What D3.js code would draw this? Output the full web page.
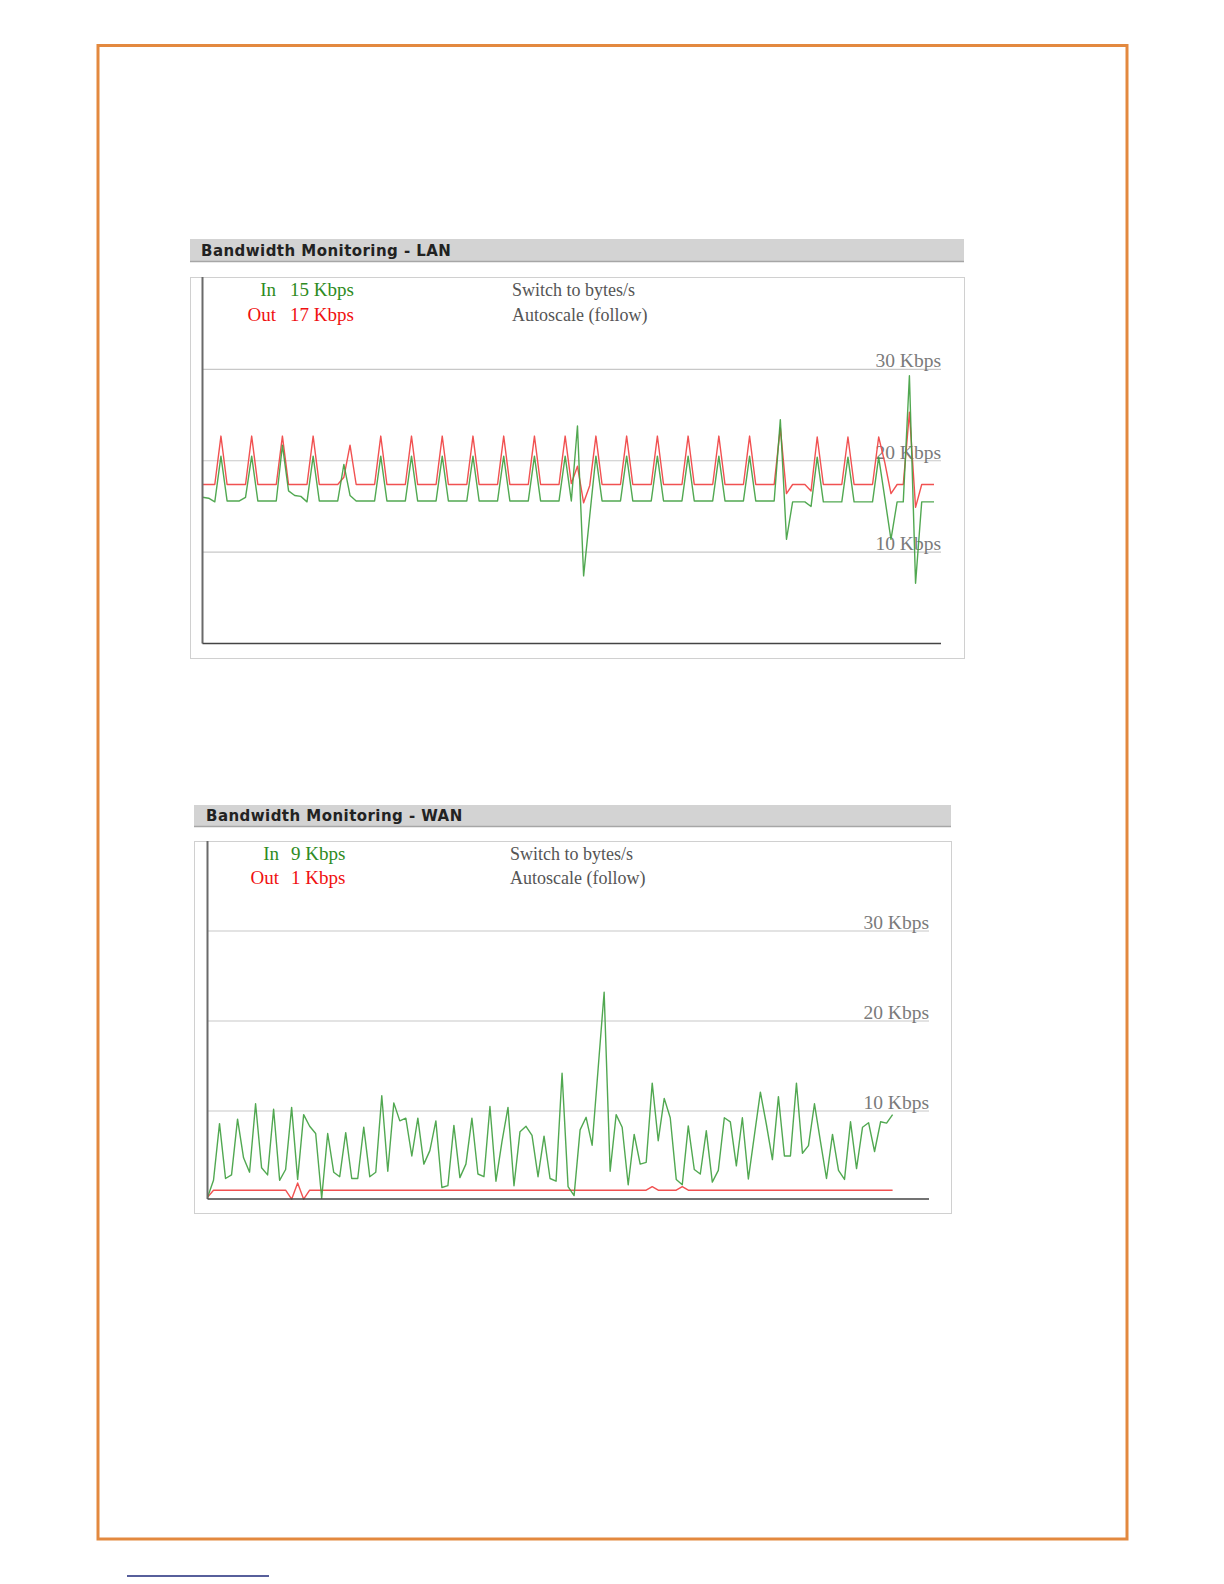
<!DOCTYPE html>
<html><head><meta charset="utf-8">
<script src="https://cdn.jsdelivr.net/npm/d3@7/dist/d3.min.js"></script>
<style>body{margin:0;background:#fff}</style>
</head><body>
<svg id="page" width="1224" height="1584"></svg>
<script>
// ---- data ----
const tickValues = [10, 20, 30];
const tickLabels = ["10 Kbps", "20 Kbps", "30 Kbps"];
const legendLabels = ["In", "Out"];
const lanLegendValues = ["15 Kbps", "17 Kbps"];
const wanLegendValues = ["9 Kbps", "1 Kbps"];
const linkTexts = ["Switch to bytes/s", "Autoscale (follow)"];
const titles = ["Bandwidth Monitoring - LAN", "Bandwidth Monitoring - WAN"];

const lanIn = [
 16.0,15.9,15.5,20.5,15.6,15.6,15.6,16.0,20.5,15.6,
 15.6,15.6,15.6,21.7,16.7,16.2,16.1,15.5,20.5,15.6,
 15.6,15.6,15.6,19.6,16.2,15.6,15.6,15.6,15.6,20.5,
 15.6,15.6,15.6,15.6,20.5,15.6,15.6,15.6,15.6,20.5,
 15.6,15.6,15.6,15.6,20.5,15.6,15.6,15.6,15.6,20.5,
 15.6,15.6,15.6,15.6,20.5,15.6,15.6,15.6,15.6,20.5,
 15.6,23.8,7.4,14.0,20.5,15.6,15.6,15.6,15.6,20.5,
 15.6,15.6,15.6,15.6,20.5,15.6,15.6,15.6,15.6,20.5,
 15.6,15.6,15.6,15.6,20.5,15.6,15.6,15.6,15.6,20.5,
 15.6,15.6,15.6,15.6,24.5,11.4,15.5,15.5,15.5,15.0,
 20.4,15.5,15.5,15.5,15.5,20.4,15.5,15.5,15.5,15.5,
 20.4,15.9,11.4,15.5,15.5,29.3,6.6,15.5,15.5,15.5
];
const lanOut = [
 17.4,17.4,17.4,22.7,17.4,17.4,17.4,17.4,22.7,17.4,
 17.4,17.4,17.4,22.7,17.4,17.4,17.4,17.4,22.7,17.4,
 17.4,17.4,17.4,18.2,21.7,17.4,17.4,17.4,17.4,22.7,
 17.4,17.4,17.4,17.4,22.7,17.4,17.4,17.4,17.4,22.7,
 17.4,17.4,17.4,17.4,22.7,17.4,17.4,17.4,17.4,22.7,
 17.4,17.4,17.4,17.4,22.7,17.4,17.4,17.4,17.4,22.7,
 17.5,19.4,15.4,17.3,22.7,17.4,17.4,17.4,17.4,22.7,
 17.4,17.4,17.4,17.4,22.7,17.4,17.4,17.4,17.4,22.7,
 17.4,17.4,17.4,17.4,22.7,17.4,17.4,17.4,17.4,22.7,
 17.4,17.4,17.4,17.4,23.6,16.4,17.4,17.4,17.4,16.7,
 22.6,17.4,17.4,17.4,17.4,22.6,17.4,17.4,17.4,17.4,
 22.6,19.8,16.4,17.4,17.4,25.3,14.9,17.4,17.4,17.4
];
const wanIn = [
 0.4,2.3,8.6,2.5,2.9,9.1,4.8,3.2,10.8,3.7,
 2.9,10.2,2.3,3.5,10.4,2.4,9.6,8.3,7.5,0.3,
 7.5,3.2,2.7,7.6,2.5,2.5,8.2,2.7,3.2,11.7,
 3.3,10.9,8.9,9.2,5.0,9.2,4.1,5.6,8.9,1.5,
 1.7,8.4,2.6,4.1,9.2,3.0,2.7,10.5,2.2,6.6,
 10.4,1.7,7.7,8.3,7.3,2.7,7.2,2.5,2.2,14.2,
 1.6,0.6,7.9,9.3,6.2,14.7,23.2,3.3,9.6,8.2,
 1.8,7.4,4.1,4.3,13.1,6.7,11.4,9.25,2.4,1.8,
 8.35,3.5,3.0,7.8,2.1,3.4,9.25,8.8,3.9,9.25,
 2.45,7.3,12.1,8.5,4.6,11.6,5.0,5.0,13.1,5.3,
 6.15,10.8,6.6,2.5,7.4,3.4,2.4,8.8,3.6,8.2,
 8.7,5.5,8.8,8.65,9.6
];
const wanOut = [
 0.4,1.2,1.2,1.2,1.2,1.2,1.2,1.2,1.2,1.2,
 1.2,1.2,1.2,1.2,0.2,2.0,0.2,1.2,1.2,1.2,
 1.2,1.2,1.2,1.2,1.2,1.2,1.2,1.2,1.2,1.2,
 1.2,1.2,1.2,1.2,1.2,1.2,1.2,1.2,1.2,1.2,
 1.2,1.2,1.2,1.2,1.2,1.2,1.2,1.2,1.2,1.2,
 1.2,1.2,1.2,1.2,1.2,1.2,1.2,1.2,1.2,1.2,
 1.2,1.2,1.2,1.2,1.2,1.2,1.2,1.2,1.2,1.2,
 1.2,1.2,1.2,1.2,1.6,1.2,1.2,1.2,1.2,1.6,
 1.2,1.2,1.2,1.2,1.2,1.2,1.2,1.2,1.2,1.2,
 1.2,1.2,1.2,1.2,1.2,1.2,1.2,1.2,1.2,1.2,
 1.2,1.2,1.2,1.2,1.2,1.2,1.2,1.2,1.2,1.2,
 1.2,1.2,1.2,1.2,1.2
];

// ---- layout ----
const svg = d3.select("#page");
svg.append("rect").attr("x",0).attr("y",0).attr("width",1224).attr("height",1584).attr("fill","#fff");
svg.append("rect").attr("x",98).attr("y",45.5).attr("width",1029).attr("height",1493.5)
  .attr("fill","none").attr("stroke","#e3893f").attr("stroke-width",3);
svg.append("line").attr("x1",127).attr("x2",269).attr("y1",1576).attr("y2",1576)
  .attr("stroke","#1f2a7a").attr("stroke-width",1.5);

const serif = "'Liberation Serif','Times New Roman',serif";

function drawChart(c, title, inData, outData, legendValues) {
  const g = svg.append("g");
  // title bar
  g.append("rect").attr("x",c.barX).attr("y",c.barY).attr("width",c.barW).attr("height",c.barH)
    .attr("fill","#d3d3d3");
  g.append("line").attr("x1",c.barX).attr("x2",c.barX+c.barW).attr("y1",c.barY+c.barH-0.5).attr("y2",c.barY+c.barH-0.5)
    .attr("stroke","#a6a6a6").attr("stroke-width",1.5);
  g.append("text").attr("x",c.titleX).attr("y",c.titleY).text(title)
    .attr("font-family","'DejaVu Sans',Verdana,sans-serif").attr("font-weight","bold")
    .attr("font-size",15).attr("letter-spacing",0.45).attr("fill","#222");
  // box
  g.append("rect").attr("x",c.boxX+0.5).attr("y",c.boxY+0.5).attr("width",c.boxW).attr("height",c.boxH)
    .attr("fill","#fff").attr("stroke","#d0d0d0").attr("stroke-width",1);

  const x = d3.scaleLinear().domain([0, inData.length-1]).range([c.dataX0, c.dataX1]);
  const y = d3.scaleLinear().domain([0, 40]).range([c.yZero, c.yTop]);

  // grid
  g.selectAll(".grid").data(tickValues).enter().append("line")
    .attr("x1",c.axisX).attr("x2",c.axisRight)
    .attr("y1",d=>y(d)).attr("y2",d=>y(d))
    .attr("stroke","#c8c8c8").attr("stroke-width",1.2);
  g.selectAll(".tl").data(tickValues).enter().append("text")
    .attr("x",c.axisRight).attr("y",d=>y(d)-2).attr("text-anchor","end")
    .text((d,i)=>tickLabels[i])
    .attr("font-family",serif).attr("font-size",19.5).attr("fill","#7a7a7a");

  // legend
  const colors = ["#2e8b22","#f01010"];
  legendLabels.forEach((lab,i)=>{
    g.append("text").attr("x",c.legRight).attr("y",c.legY[i]).attr("text-anchor","end").text(lab)
      .attr("font-family",serif).attr("font-size",19).attr("fill",colors[i]);
    g.append("text").attr("x",c.valX).attr("y",c.legY[i]).text(legendValues[i])
      .attr("font-family",serif).attr("font-size",19).attr("fill",colors[i]);
    g.append("text").attr("x",c.linkX).attr("y",c.legY[i]).text(linkTexts[i])
      .attr("font-family",serif).attr("font-size",18).attr("fill","#555");
  });

  // lines
  const line = d3.line().x((d,i)=>x(i)).y(d=>y(d));
  g.append("path").datum(outData).attr("d",line).attr("fill","none")
    .attr("stroke","#f04848").attr("stroke-width",1.4).attr("stroke-linejoin","round").attr("opacity",0.95);
  g.append("path").datum(inData).attr("d",line).attr("fill","none")
    .attr("stroke","#3e9e3e").attr("stroke-width",1.4).attr("stroke-linejoin","round").attr("opacity",0.9);

  // axes
  g.append("line").attr("x1",c.axisX).attr("x2",c.axisX).attr("y1",c.boxY).attr("y2",c.axisY)
    .attr("stroke","#6a6a6a").attr("stroke-width",2);
  g.append("line").attr("x1",c.axisX).attr("x2",c.axisRight).attr("y1",c.axisY).attr("y2",c.axisY)
    .attr("stroke","#444").attr("stroke-width",1.5);
}

drawChart({
  barX:190, barY:239, barW:774, barH:23, titleX:201, titleY:256,
  boxX:190, boxY:277, boxW:774, boxH:381,
  axisX:202.5, axisRight:941, axisY:643.5, yZero:643.5, yTop:278,
  dataX0:202.5, dataX1:934,
  legRight:276, valX:290, linkX:512, legY:[296,321]
}, titles[0], lanIn, lanOut, lanLegendValues);

drawChart({
  barX:194, barY:805, barW:757, barH:22, titleX:206, titleY:821,
  boxX:194, boxY:841, boxW:757, boxH:372,
  axisX:207.5, axisRight:929, axisY:1199, yZero:1201, yTop:841,
  dataX0:207.5, dataX1:892.6,
  legRight:279, valX:291, linkX:510, legY:[860,884]
}, titles[1], wanIn, wanOut, wanLegendValues);
</script>
</body></html>
